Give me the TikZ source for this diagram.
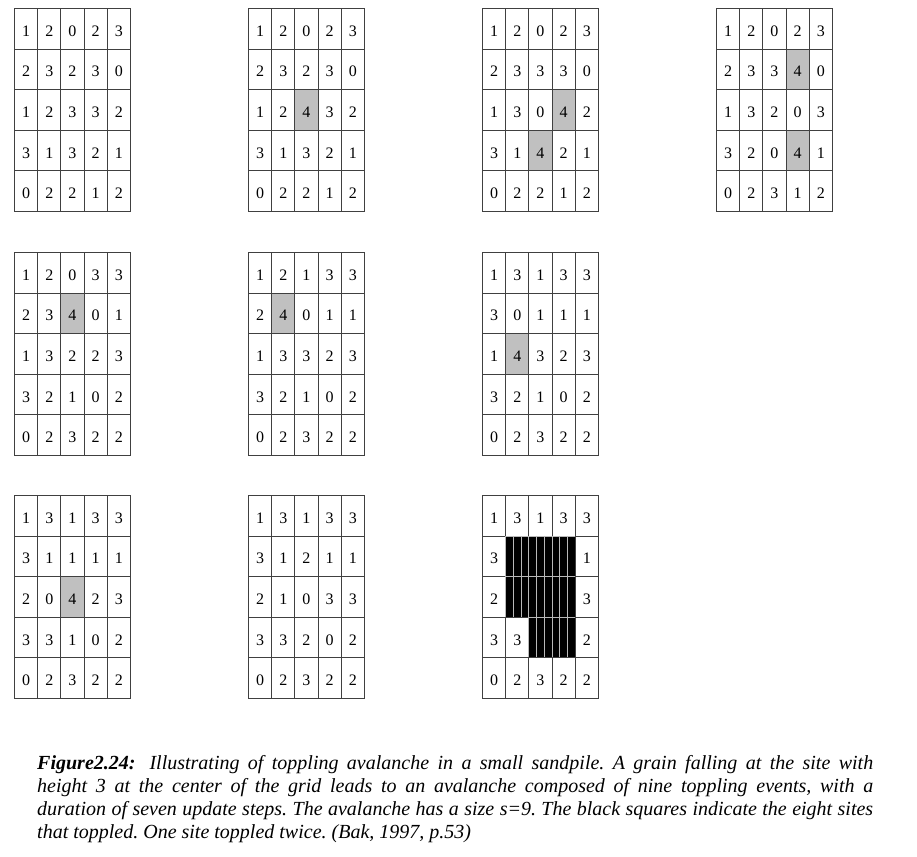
\documentclass[tikz,border=0pt]{standalone}
\usepackage{fontspec}
\setmainfont{Liberation Serif}
\frenchspacing
\newcommand\digitfont{\fontsize{16}{18}\selectfont}
\newcommand\capfont{\fontsize{20}{23}\selectfont\itshape}
\definecolor{hlgray}{RGB}{192,192,192}
\tikzset{
  cellN/.style={draw=black!75, line width=0.9pt, minimum width=23.2pt, minimum height=40.6pt,
    inner sep=0pt, anchor=north west, text height=15pt, text depth=0pt, font=\digitfont},
  cellH/.style={cellN, fill=hlgray},
  cellK/.style={cellN, fill=black, draw=gray!55, line width=0.7pt,
    path picture={\foreach \i in {1,2}{\draw[gray!55,line width=0.7pt]
      ([xshift=\i*7.733pt]path picture bounding box.north west) --
      ([xshift=\i*7.733pt]path picture bounding box.south west);}}},
  caption/.style={anchor=base west, inner sep=0pt, text width=836pt, align=justify, font=\capfont}
}
\newcommand\sandgrid[4]{%
  \foreach \row [count=\r] in {#4} {
    \foreach \v/\s [count=\c] in \row {
      \node[cell\s] (#1-\r-\c) at ({#2+(\c-1)*23.2},{#3+(\r-1)*40.6}) {\v};
    }
  }%
}
\begin{document}
\begin{tikzpicture}[x=1pt,y=-1pt]
\useasboundingbox[fill=white] (0,0) rectangle (917,856);
% row 1
\sandgrid{ga}{14}{8}{
 {1/N,2/N,0/N,2/N,3/N},
 {2/N,3/N,2/N,3/N,0/N},
 {1/N,2/N,3/N,3/N,2/N},
 {3/N,1/N,3/N,2/N,1/N},
 {0/N,2/N,2/N,1/N,2/N}}
\sandgrid{gb}{248}{8}{
 {1/N,2/N,0/N,2/N,3/N},
 {2/N,3/N,2/N,3/N,0/N},
 {1/N,2/N,4/H,3/N,2/N},
 {3/N,1/N,3/N,2/N,1/N},
 {0/N,2/N,2/N,1/N,2/N}}
\sandgrid{gc}{482}{8}{
 {1/N,2/N,0/N,2/N,3/N},
 {2/N,3/N,3/N,3/N,0/N},
 {1/N,3/N,0/N,4/H,2/N},
 {3/N,1/N,4/H,2/N,1/N},
 {0/N,2/N,2/N,1/N,2/N}}
\sandgrid{gd}{716}{8}{
 {1/N,2/N,0/N,2/N,3/N},
 {2/N,3/N,3/N,4/H,0/N},
 {1/N,3/N,2/N,0/N,3/N},
 {3/N,2/N,0/N,4/H,1/N},
 {0/N,2/N,3/N,1/N,2/N}}
% row 2
\sandgrid{ge}{14}{252}{
 {1/N,2/N,0/N,3/N,3/N},
 {2/N,3/N,4/H,0/N,1/N},
 {1/N,3/N,2/N,2/N,3/N},
 {3/N,2/N,1/N,0/N,2/N},
 {0/N,2/N,3/N,2/N,2/N}}
\sandgrid{gf}{248}{252}{
 {1/N,2/N,1/N,3/N,3/N},
 {2/N,4/H,0/N,1/N,1/N},
 {1/N,3/N,3/N,2/N,3/N},
 {3/N,2/N,1/N,0/N,2/N},
 {0/N,2/N,3/N,2/N,2/N}}
\sandgrid{gg}{482}{252}{
 {1/N,3/N,1/N,3/N,3/N},
 {3/N,0/N,1/N,1/N,1/N},
 {1/N,4/H,3/N,2/N,3/N},
 {3/N,2/N,1/N,0/N,2/N},
 {0/N,2/N,3/N,2/N,2/N}}
% row 3
\sandgrid{gh}{14}{495}{
 {1/N,3/N,1/N,3/N,3/N},
 {3/N,1/N,1/N,1/N,1/N},
 {2/N,0/N,4/H,2/N,3/N},
 {3/N,3/N,1/N,0/N,2/N},
 {0/N,2/N,3/N,2/N,2/N}}
\sandgrid{gi}{248}{495}{
 {1/N,3/N,1/N,3/N,3/N},
 {3/N,1/N,2/N,1/N,1/N},
 {2/N,1/N,0/N,3/N,3/N},
 {3/N,3/N,2/N,0/N,2/N},
 {0/N,2/N,3/N,2/N,2/N}}
\sandgrid{gj}{482}{495}{
 {1/N,3/N,1/N,3/N,3/N},
 {3/N,/K,/K,/K,1/N},
 {2/N,/K,/K,/K,3/N},
 {3/N,3/N,/K,/K,2/N},
 {0/N,2/N,3/N,2/N,2/N}}
% caption
\node[caption] (cap) at (37,769) {\textbf{Figure2.24:}\hspace{0.7em}Illustrating of toppling avalanche in a small sandpile. A grain falling at the site with\linebreak
height 3 at the center of the grid leads to an avalanche composed of nine toppling events, with a\linebreak
duration of seven update steps. The avalanche has a size s=9. The black squares indicate the eight sites\linebreak
that toppled. One site toppled twice. (Bak, 1997, p.53)};
\end{tikzpicture}
\end{document}
